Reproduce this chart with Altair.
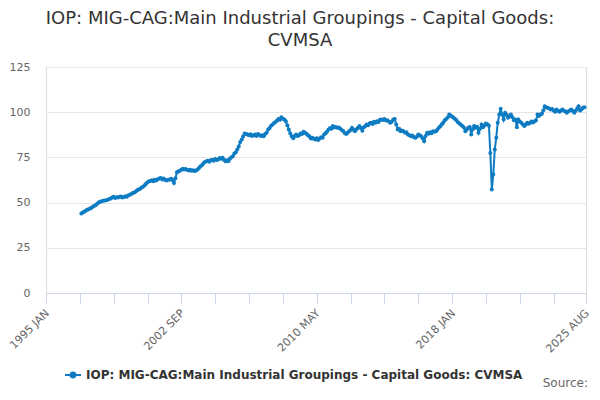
import altair as alt
import pandas as pd

# ---- data (monthly) ----
series_name = "IOP: MIG-CAG:Main Industrial Groupings - Capital Goods: CVMSA"
start_month = "1997-01-01"
v1997 = [44, 44.5, 45, 45.5, 46, 46.3, 46.8, 47.2, 47.8, 48.2, 48.8, 49.5]
v1998 = [50.2, 50.5, 50.8, 51, 51.2, 51.3, 51.6, 52, 52.3, 52.8, 53.2, 52.6]
v1999 = [53, 52.8, 53.2, 53.4, 52.8, 53.1, 53.5, 53.3, 54, 54.3, 54.8, 55.3]
v2000 = [55.6, 56.2, 56.8, 57.2, 57.6, 58.3, 58.8, 59.6, 60.4, 61.2, 61.8, 62]
v2001 = [62.4, 61.8, 62.6, 62.2, 62.9, 63.3, 63.6, 62.8, 63.3, 62.5, 62.2, 62.6]
v2002 = [62.8, 63.2, 62.4, 60.8, 63.5, 66.8, 67.2, 67.6, 68.2, 68.7, 68.3, 68.6]
v2003 = [68.1, 67.8, 68.2, 67.6, 67.9, 67.5, 67.8, 68.3, 69.2, 70.1, 70.6, 71.8]
v2004 = [72.4, 72.9, 73.2, 72.6, 73.4, 73.5, 73.2, 74.1, 73.5, 73.8, 74.6, 74.2]
v2005 = [74.8, 73.6, 72.9, 73.4, 72.9, 74.2, 75.1, 75.7, 77.2, 77.9, 79.4, 81]
v2006 = [83.5, 84.9, 86.5, 88.2, 88, 87.7, 87.2, 87.8, 86.9, 87.2, 87.6, 86.8]
v2007 = [88, 87.4, 86.8, 87.2, 86.7, 87.9, 88.6, 90.4, 91.2, 92.5, 93.2, 94]
v2008 = [94.6, 95.4, 96.2, 95.8, 97.2, 96.4, 96, 95, 92.8, 90.4, 88.2, 86.7]
v2009 = [85.6, 86.9, 87.6, 86.8, 87.3, 88.2, 87.9, 89.2, 88.6, 88.1, 87.2, 86.7]
v2010 = [85.5, 85.9, 85.3, 84.9, 85.6, 84.6, 85.4, 86.1, 85.8, 87.7, 88.4, 89.2]
v2011 = [90.4, 91.2, 90.8, 92.3, 91.6, 91.8, 91.4, 91.6, 90.9, 90.2, 89.6, 88.5]
v2012 = [88, 88.7, 89.5, 90.2, 91.4, 90.3, 89.5, 90.6, 91.4, 92.3, 91.2, 89.8]
v2013 = [91.7, 92.4, 93.2, 92.8, 93.9, 94.1, 93.5, 94.7, 94.2, 95, 94.6, 95.8]
v2014 = [96, 95.7, 96.3, 95.4, 95.6, 94.8, 94.1, 94.7, 96, 96.3, 93.2, 90.4]
v2015 = [90.8, 89.5, 89.9, 89.5, 88.6, 88.9, 87.7, 87.3, 86.7, 87.1, 86.2, 85.8]
v2016 = [86.4, 87.7, 87.2, 86.7, 85.6, 84, 86.9, 88.6, 88.1, 88.9, 88.4, 89.5]
v2017 = [89.2, 89.5, 90.3, 91.4, 92.2, 93.3, 94.1, 95.6, 96.2, 97.1, 98.7, 98.2]
v2018 = [97.5, 96.9, 96.2, 95.5, 94.5, 93.8, 93.1, 92.3, 91.6, 89.5, 90.4, 91.4]
v2019 = [91.8, 87.7, 90.6, 92.3, 91.4, 91.9, 88.6, 90.8, 93.2, 91.7, 92.6, 93.7]
v2020 = [93.4, 92.5, 77.5, 57.2, 65.5, 79.4, 85.8, 94.1, 98.7, 101.9, 98.7, 96]
v2021 = [99.7, 98.6, 96.9, 97.8, 98.7, 97.2, 95.6, 96, 91.7, 96, 94.8, 94.1]
v2022 = [93.4, 92.3, 93.1, 94.1, 93.6, 94.1, 94.8, 94.3, 95, 95.4, 98.7, 97.9]
v2023 = [98.7, 99.2, 101, 103.3, 102.6, 102.4, 102, 101.5, 101.8, 100.9, 100.2, 101.5]
v2024 = [100.6, 100.2, 100.9, 101.5, 100.8, 100.4, 99.7, 100.5, 101, 101.5, 100.6, 99.7]
v2025 = [100.8, 102.1, 103.3, 101, 101.6, 102.4, 102.8]

values = (v1997 + v1998 + v1999 + v2000 + v2001 + v2002 + v2003 + v2004 + v2005
          + v2006 + v2007 + v2008 + v2009 + v2010 + v2011 + v2012 + v2013 + v2014
          + v2015 + v2016 + v2017 + v2018 + v2019 + v2020 + v2021 + v2022 + v2023
          + v2024 + v2025)

x_domain = ["1995-01-01", "2025-08-01"]
tick_dates = ["1995-01-01", "1996-12-01", "1998-11-01", "2000-10-01", "2002-09-01",
              "2004-08-01", "2006-07-01", "2008-06-01", "2010-05-01", "2012-04-01",
              "2014-03-01", "2016-02-01", "2018-01-01", "2019-12-01", "2021-11-01",
              "2023-10-01", "2025-08-01"]
labelled_ticks = ["1995-01", "2002-09", "2010-05", "2018-01", "2025-08"]
y_ticks = [0, 25, 50, 75, 100, 125]

df = pd.DataFrame({
    "date": pd.date_range(start_month, periods=len(values), freq="MS"),
    "value": values,
    "series": series_name,
})

FONT = "DejaVu Sans"
BLUE = "#0e7cc2"

label_expr = (
    "indexof(" + str(labelled_ticks).replace("'", '"') +
    ", timeFormat(datum.value, '%Y-%m')) >= 0 ? upper(timeFormat(datum.value, '%Y %b')) : ''"
)

line = alt.Chart(df).mark_line(
    strokeWidth=2,
    point=alt.OverlayMarkDef(filled=True, size=16, color=BLUE),
).encode(
    x=alt.X("date:T",
            scale=alt.Scale(domain=x_domain),
            axis=alt.Axis(title=None, values=tick_dates, labelExpr=label_expr,
                          labelAngle=-45, labelFontSize=11, labelColor="#666666",
                          labelFont=FONT, tickSize=10, tickColor="#ccd6eb",
                          domainColor="#ccd6eb", grid=False, labelPadding=4,
                          labelOffset=-3,
                          labelOverlap=False, labelBound=False, labelFlush=False)),
    y=alt.Y("value:Q",
            scale=alt.Scale(domain=[0, 125], nice=False),
            axis=alt.Axis(title=None, values=y_ticks, labelFontSize=11,
                          labelColor="#666666", labelFont=FONT, tickSize=0,
                          domain=False, gridColor="#e6e6e6", labelPadding=16)),
    color=alt.Color("series:N",
                    scale=alt.Scale(range=[BLUE]),
                    legend=alt.Legend(
                        title=None, orient="none", legendX=18, legendY=299,
                        labelFont=FONT, labelFontSize=12, labelFontWeight="bold",
                        labelColor="#333333", labelLimit=600, padding=0,
                        symbolType="M-1,0H1M-0.3,0A0.3,0.3 0 1,0 0.3,0A0.3,0.3 0 1,0 -0.3,0",
                        symbolSize=256, symbolStrokeWidth=2,
                        symbolFillColor=BLUE, symbolStrokeColor=BLUE,
                    )),
)

source = alt.Chart(pd.DataFrame({"t": ["Source:"]})).mark_text(
    align="right", baseline="bottom", font=FONT, fontSize=12, color="#666666"
).encode(text="t:N", x=alt.value(542), y=alt.value(323))

chart = alt.layer(line, source).properties(
    width=540,
    height=226,
    autosize=alt.AutoSizeParams(type="none"),
    padding={"left": 38, "top": 59, "right": 6, "bottom": 98},
    title=alt.TitleParams(
        text=["IOP: MIG-CAG:Main Industrial Groupings - Capital Goods:", "CVMSA"],
        font=FONT, fontSize=18, fontWeight="normal", color="#333333",
        anchor="middle", dx=-16, offset=11, lineHeight=22,
    ),
).configure_view(strokeWidth=0).configure(background="white")

chart.save("out.html", embed_options={"renderer": "svg", "actions": False})
